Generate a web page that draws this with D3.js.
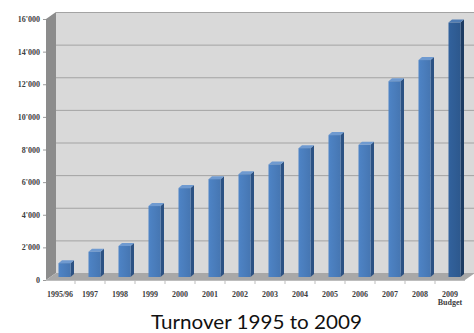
<!DOCTYPE html>
<html><head><meta charset="utf-8">
<script src="https://cdn.jsdelivr.net/npm/d3@7"></script>
<style>
html,body{margin:0;padding:0;background:#fff;}
svg{display:block;}
.tick text{font-family:"Liberation Serif","DejaVu Serif",serif;font-weight:bold;font-size:8px;fill:#404040;}
</style></head>
<body>
<svg id="c" width="474" height="333"></svg>
<script>
const categories = ["1995/96","1997","1998","1999","2000","2001","2002","2003","2004","2005","2006","2007","2008","2009"];
const subLabels = ["","","","","","","","","","","","","","Budget"];
const values = [850,1550,1900,4350,5450,6000,6300,6900,7900,8700,8100,12000,13300,15600];
const budgetFlags = [0,0,0,0,0,0,0,0,0,0,0,0,0,1];
const yTicks = [0,2000,4000,6000,8000,10000,12000,14000,16000];
const title = "Turnover 1995 to 2009";

const svg = d3.select("#c");
const y = d3.scaleLinear().domain([0,16000]).range([280,19]);
const x = d3.scaleBand().domain(categories).range([45,465]).paddingInner(0).paddingOuter(0);
const DX = 10, DY = -7;          // depth of the 3D box
const BDX = 4.5, BDY = -3;       // bar position inside depth
const bw = 12, bdx = 3.5, bdy = -3; // bar width and bar depth
const fmt = v => v === 0 ? "0" : d3.format(",")(v).replace(/,/g, "'");

const x0 = 46, x1 = 465;
// back wall
svg.append("rect").attr("x", x0+DX).attr("y", y(16000)+DY)
  .attr("width", 474-(x0+DX)).attr("height", y(0)-y(16000))
  .attr("fill", "#d9d9d9");
// gridlines on back wall
svg.append("g").selectAll("line").data(yTicks.slice(1)).join("line")
  .attr("x1", x0+DX).attr("x2", 474)
  .attr("y1", d => y(d)+DY+0.5).attr("y2", d => y(d)+DY+0.5)
  .attr("stroke", "#a3a3a3").attr("stroke-width", 1);
// side wall
svg.append("polygon")
  .attr("points", [[x0,y(16000)],[x0+DX,y(16000)+DY],[x0+DX,y(0)+DY],[x0,y(0)]].map(p=>p.join(",")).join(" "))
  .attr("fill", "#8c8c8c");
// floor
svg.append("polygon")
  .attr("points", [[x0,y(0)],[x0+DX,y(0)+DY],[x1+DX,y(0)+DY],[x1,y(0)]].map(p=>p.join(",")).join(" "))
  .attr("fill", "#a8a8a8");

// bars
const bars = svg.append("g").selectAll("g").data(categories).join("g");
bars.each(function(c, i){
  const g = d3.select(this);
  const v = values[i];
  const bx = x(c) + x.bandwidth()/2 - bw/2 + BDX;
  const yb = y(0) + BDY, yt = y(v) + BDY;
  const dark = budgetFlags[i];
  const front = dark ? "#2f5d95" : "#4a7dbc";
  const side = dark ? "#1c3b62" : "#2c5283";
  const top = dark ? "#4f7cb4" : "#6f9ad0";
  const grad = "g" + i;
  const lg = svg.append("defs").append("linearGradient").attr("id", grad).attr("x1","0").attr("x2","1");
  lg.append("stop").attr("offset","0").attr("stop-color", d3.color(front).brighter(0.15));
  lg.append("stop").attr("offset","1").attr("stop-color", d3.color(front).darker(0.15));
  g.append("polygon").attr("points", [[bx+bw,yt],[bx+bw+bdx,yt+bdy],[bx+bw+bdx,yb+bdy],[bx+bw,yb]].map(p=>p.join(",")).join(" "))
    .attr("fill", side);
  g.append("polygon").attr("points", [[bx,yt],[bx+bdx,yt+bdy],[bx+bw+bdx,yt+bdy],[bx+bw,yt]].map(p=>p.join(",")).join(" "))
    .attr("fill", top);
  g.append("rect").attr("x", bx).attr("y", yt).attr("width", bw).attr("height", yb-yt)
    .attr("fill", "url(#" + grad + ")");
});

// y axis
const ya = svg.append("g").attr("transform", `translate(${x0},0)`)
  .call(d3.axisLeft(y).tickValues(yTicks).tickFormat(fmt).tickSize(3).tickPadding(3));
ya.select(".domain").remove();
ya.selectAll(".tick line").attr("stroke", "#9a9a9a");

// x axis
const xa = svg.append("g").attr("transform", `translate(0,${y(0)})`)
  .call(d3.axisBottom(x).tickSize(0).tickPadding(11));
xa.select(".domain").attr("stroke", "#bdbdbd").attr("d", `M${x0},0.5H${x1}`);
xa.selectAll(".tick text").each(function(c, i){
  const t = d3.select(this);
  const sub = subLabels[categories.indexOf(c)];
  if (sub) {
    t.append("tspan").attr("x", 0).attr("dy", "1.1em").text(sub);
  }
});
// category boundary ticks
svg.append("g").selectAll("line").data(categories.slice(0, -1)).join("line")
  .attr("x1", c => x(c) + x.step()).attr("x2", c => x(c) + x.step())
  .attr("y1", y(0)).attr("y2", y(0) + 4)
  .attr("stroke", "#bdbdbd");

// title
svg.append("text").attr("x", 256.5).attr("y", 329).attr("text-anchor", "middle")
  .attr("font-family", "Lato, 'Open Sans', sans-serif").attr("font-size", 20)
  .attr("textLength", 211).attr("lengthAdjust", "spacingAndGlyphs")
  .attr("fill", "#111").text(title);
</script>
</body></html>
